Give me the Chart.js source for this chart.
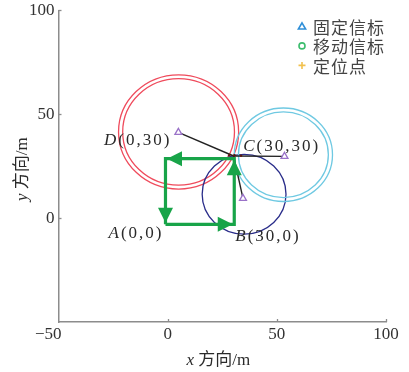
<!DOCTYPE html>
<html>
<head>
<meta charset="utf-8">
<script src="https://cdn.jsdelivr.net/npm/chart.js@4/dist/chart.umd.min.js"></script>
<style>
  html, body { margin: 0; padding: 0; background: #fff; }
  canvas { display: block; }
</style>
</head>
<body>
<canvas id="c" width="409" height="372"></canvas>
<script>
// Fixed beacons (D, B, C)
const beaconX = [4.9, 34.5, 53.5];
const beaconY = [41.3, 9.5, 29.7];

// Ranging circles around each beacon: centre, outer and inner radius
const ringX = [5, 35, 53];
const ringY = [41.5, 11.5, 30.5];
const ringOuter = [27.5, 19.2, 22.5];
const ringInner = [25.6, null, 20.6];
const ringColors = ['#ef4b5c', '#2a2d8a', '#6fc9e2'];

// Estimated position where the ranges meet
const fixX = [30.2];
const fixY = [29.9];

// Small solved points around the estimate
const solvedX = [28.2, 30.6, 33.6];
const solvedY = [30.3, 30.2, 30.0];

// Route of the mobile beacon A -> B -> C -> D -> A
const pathX = [-1, 30.5, 30.5, -1, -1];
const pathY = [-3, -3, 28.6, 28.6, -3];

// Corner labels: italic letter + coordinates
const cornerLetters = ['A', 'B', 'C', 'D'];
const cornerCoords = ['(0,0)', '(30,0)', '(30,30)', '(0,30)'];

const xTicks = [-50, 0, 50, 100];
const yTicks = [-50, 0, 50, 100];

const legendLabels = ['固定信标', '移动信标', '定位点'];
const legendColors = ['#2f8fd8', '#3dbd6e', '#f2c14e'];

const SERIF = '"Liberation Serif", "Times New Roman", serif';
const CJK = '"Liberation Serif", "Noto Sans CJK SC", serif';
const GREEN = '#18a449';
const TEXT = '#333333';

function pts(xs, ys) { return xs.map((x, i) => ({ x: x, y: ys[i] })); }

// one segment from each beacon to the estimated position
const rayDatasets = beaconX.map((bx, i) => ({
  data: [{ x: bx, y: beaconY[i] }, { x: fixX[0], y: fixY[0] }],
  showLine: true,
  borderColor: '#222',
  borderWidth: 1.4,
  pointRadius: 0,
  order: 3
}));

function drawMixed(ctx, parts, x, y, align, size, spacing) {
  ctx.save();
  ctx.letterSpacing = spacing + 'px';
  const widths = parts.map(p => {
    ctx.font = (p.italic ? 'italic ' : '') + size + 'px ' + p.family;
    return ctx.measureText(p.t).width;
  });
  const total = widths.reduce((a, b) => a + b, 0);
  let cx = align === 'right' ? x - total : align === 'center' ? x - total / 2 : x;
  ctx.textAlign = 'left';
  ctx.textBaseline = 'middle';
  parts.forEach((p, i) => {
    ctx.font = (p.italic ? 'italic ' : '') + size + 'px ' + p.family;
    ctx.fillText(p.t, cx, y);
    cx += widths[i];
  });
  ctx.restore();
}

const decor = {
  id: 'decor',
  beforeDatasetsDraw(chart) {
    const { ctx, scales: { x, y } } = chart;
    const kx = Math.abs(x.getPixelForValue(1) - x.getPixelForValue(0));
    const ky = Math.abs(y.getPixelForValue(1) - y.getPixelForValue(0));
    ctx.save();
    ringX.forEach((cx, i) => {
      [ringOuter[i], ringInner[i]].forEach(r => {
        if (r == null) return;
        ctx.beginPath();
        ctx.ellipse(x.getPixelForValue(cx), y.getPixelForValue(ringY[i]), r * kx, r * ky, 0, 0, Math.PI * 2);
        ctx.strokeStyle = ringColors[i];
        ctx.lineWidth = 1.3;
        ctx.stroke();
      });
    });
    ctx.restore();
  },
  afterDatasetsDraw(chart) {
    const { ctx, scales: { x, y } } = chart;
    // arrowheads at the end of every leg of the route
    ctx.save();
    ctx.fillStyle = GREEN;
    for (let i = 1; i < pathX.length; i++) {
      const x0 = x.getPixelForValue(pathX[i - 1]), y0 = y.getPixelForValue(pathY[i - 1]);
      const x1 = x.getPixelForValue(pathX[i]), y1 = y.getPixelForValue(pathY[i]);
      const a = Math.atan2(y1 - y0, x1 - x0);
      const L = 15, W = 7.5, back = 1.5;
      const tx = x1 - Math.cos(a) * back, ty = y1 - Math.sin(a) * back;
      ctx.beginPath();
      ctx.moveTo(tx, ty);
      ctx.lineTo(tx - Math.cos(a) * L - Math.sin(a) * W, ty - Math.sin(a) * L + Math.cos(a) * W);
      ctx.lineTo(tx - Math.cos(a) * L + Math.sin(a) * W, ty - Math.sin(a) * L - Math.cos(a) * W);
      ctx.closePath();
      ctx.fill();
    }
    ctx.restore();

    // corner labels
    ctx.save();
    ctx.fillStyle = '#2a2a2a';
    const offs = [[-2, 9, 'right'], [1, 12, 'left'], [9, -12, 'left'], [5, 8, 'right']];
    cornerLetters.forEach((L, i) => {
      let px = x.getPixelForValue(pathX[i]), py = y.getPixelForValue(pathY[i]);
      if (L === 'D') { px = x.getPixelForValue(beaconX[0]) - 12; py = y.getPixelForValue(beaconY[0]); }
      drawMixed(ctx, [{ t: L, italic: true, family: SERIF }, { t: cornerCoords[i], italic: false, family: SERIF }],
        px + offs[i][0], py + offs[i][1], offs[i][2], 17, 2);
    });
    ctx.restore();
  },
  afterDraw(chart) {
    const { ctx, chartArea: ca, scales: { x, y } } = chart;
    ctx.save();
    ctx.strokeStyle = '#8c8c8c';
    ctx.lineWidth = 1.3;
    // inward tick marks
    xTicks.forEach(v => {
      if (v === xTicks[0]) return;
      const px = Math.round(x.getPixelForValue(v)) + 0.5;
      ctx.beginPath(); ctx.moveTo(px, ca.bottom); ctx.lineTo(px, ca.bottom - 3); ctx.stroke();
    });
    yTicks.forEach(v => {
      if (v === yTicks[0]) return;
      const py = Math.round(y.getPixelForValue(v)) + 0.5;
      ctx.beginPath(); ctx.moveTo(ca.left, py); ctx.lineTo(ca.left + 3, py); ctx.stroke();
    });
    ctx.restore();

    // axis titles
    ctx.save();
    ctx.fillStyle = '#2a2a2a';
    drawMixed(ctx, [{ t: 'x', italic: true, family: SERIF }, { t: ' 方向/m', italic: false, family: CJK }],
      (ca.left + ca.right) / 2 - 4, ca.bottom + 39, 'center', 17, 0);
    ctx.translate(ca.left - 36, (ca.top + ca.bottom) / 2 + 3);
    ctx.rotate(-Math.PI / 2);
    drawMixed(ctx, [{ t: 'y', italic: true, family: SERIF }, { t: ' 方向/m', italic: false, family: CJK }],
      0, 0, 'center', 17, 0);
    ctx.restore();

    // legend
    ctx.save();
    const mx = ca.right - 84;
    legendLabels.forEach((lab, i) => {
      const my = ca.top + 16 + i * 19.5;
      ctx.strokeStyle = legendColors[i];
      ctx.lineWidth = 1.6;
      ctx.beginPath();
      if (i === 0) {
        ctx.moveTo(mx, my - 3.5); ctx.lineTo(mx + 3.6, my + 2.6); ctx.lineTo(mx - 3.6, my + 2.6); ctx.closePath();
      } else if (i === 1) {
        ctx.arc(mx, my, 3, 0, Math.PI * 2);
      } else {
        ctx.moveTo(mx - 3.5, my); ctx.lineTo(mx + 3.5, my);
        ctx.moveTo(mx, my - 3.5); ctx.lineTo(mx, my + 3.5);
      }
      ctx.stroke();
      ctx.fillStyle = '#444';
      ctx.font = '17px "Noto Sans CJK SC", sans-serif';
      ctx.letterSpacing = '1px';
      ctx.textAlign = 'left';
      ctx.textBaseline = 'middle';
      ctx.fillText(lab, mx + 11, my + 1);
    });
    ctx.restore();
  }
};

new Chart(document.getElementById('c'), {
  type: 'scatter',
  data: {
    datasets: [
      {
        label: '固定信标',
        data: pts(beaconX, beaconY),
        pointStyle: 'triangle',
        pointRadius: 4,
        pointBorderWidth: 1.3,
        pointBorderColor: '#9a72c8',
        pointBackgroundColor: '#ffffff',
        order: 0
      },
      {
        label: '定位点',
        data: pts(solvedX, solvedY),
        pointRadius: 1.3,
        pointBorderWidth: 0,
        pointBackgroundColor: '#5a1a10',
        order: 1
      },
      {
        label: '移动信标',
        data: pts(pathX, pathY),
        showLine: true,
        borderColor: GREEN,
        borderWidth: 3.2,
        pointRadius: 0,
        order: 2
      },
      ...rayDatasets
    ]
  },
  options: {
    responsive: false,
    animation: false,
    events: [],
    layout: { padding: { top: 7, right: 23, left: 0, bottom: 0 } },
    plugins: { legend: { display: false }, tooltip: { enabled: false } },
    scales: {
      x: {
        type: 'linear', min: -50, max: 100,
        afterBuildTicks: s => { s.ticks = xTicks.map(v => ({ value: v })); },
        afterFit: s => { s.height = 50; },
        grid: { display: false, drawTicks: false, tickLength: 0 },
        border: { display: true, color: '#8c8c8c', width: 1.5 },
        ticks: {
          font: { family: SERIF, size: 17, lineHeight: 1.2 },
          color: TEXT, padding: 2, maxRotation: 0, autoSkip: false,
          // the first label hangs a little left of its tick
          callback: v => (v < 0 ? '−' + Math.abs(v) + '\u2003\u2009' : String(v))
        }
      },
      y: {
        type: 'linear', min: -50, max: 100,
        afterBuildTicks: s => { s.ticks = yTicks.map(v => ({ value: v })); },
        afterFit: s => { s.width = 58.5; },
        grid: { display: false, drawTicks: false, tickLength: 0 },
        border: { display: true, color: '#8c8c8c', width: 1.5 },
        ticks: {
          font: { family: SERIF, size: 17, lineHeight: 0.75 },
          color: TEXT, padding: 4, autoSkip: false,
          callback: v => (v === yTicks[0] ? '' : String(v))
        }
      }
    }
  },
  plugins: [decor]
});
</script>
</body>
</html>
